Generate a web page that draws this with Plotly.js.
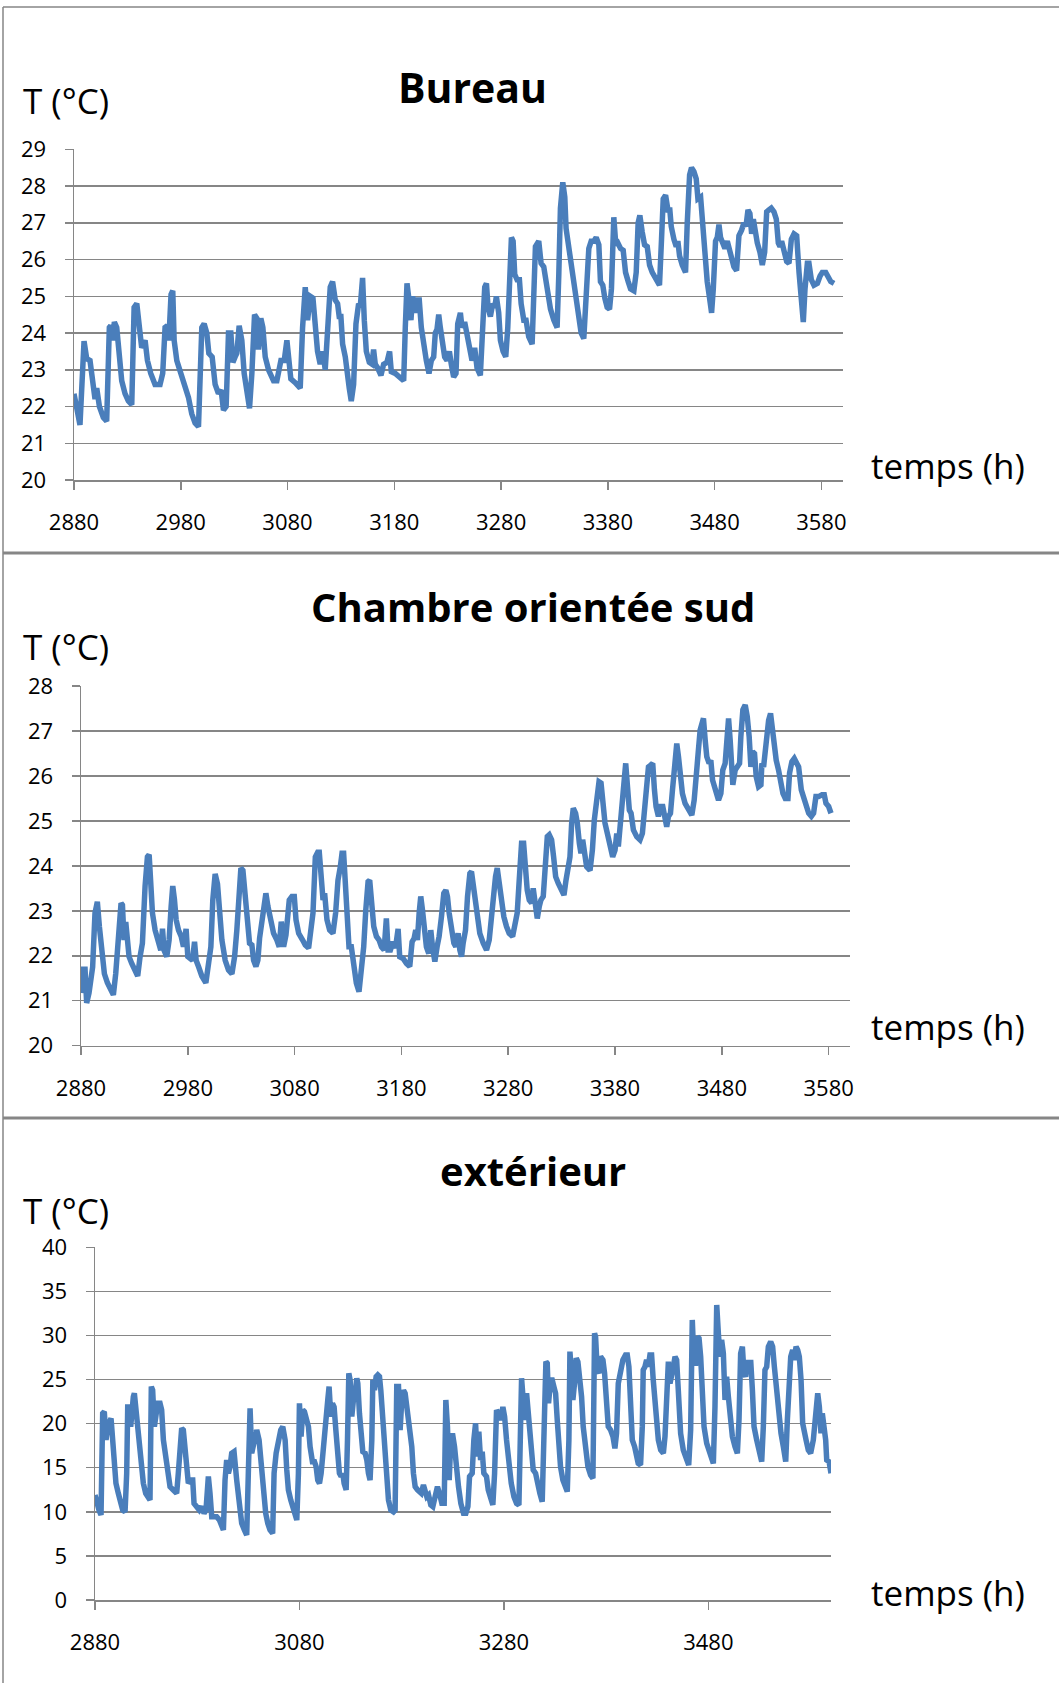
<!DOCTYPE html>
<html><head><meta charset="utf-8">
<script src="https://cdn.plot.ly/plotly-3.0.1.min.js"></script>
<style>html,body{margin:0;padding:0;background:#fff}#chart{width:1059px;height:1683px}</style>
</head><body><div id="chart"></div>
<script>
// ---------- DATA ----------
const bureauHours = [
2880,2885.6,2889.4,2891.9,2895,2896.6,2899.7,2901.3,2903.8,2907.5,
2910.6,2913.1,2914.4,2916.3,2917.8,2920,2921.9,2924.7,2927.8,2930.9,
2934.1,2936.3,2938.8,2940.9,2943.4,2946.6,2948.8,2951.9,2955.9,2960.6,
2963.1,2965.3,2967.5,2968.8,2970.9,2972.5,2973.8,2976.3,2980,2984.1,
2987.2,2990.3,2993.4,2996.6,2999.7,3001.9,3004.4,3006.3,3009.4,3012.2,
3015.3,3017.8,3020,3022.5,3024.7,3026.9,3028.8,3030.9,3032.5,3034.7,
3037.2,3039.4,3041.9,3044.4,3046.6,3049.1,3051.3,3052.8,3055,3056.9,
3059.1,3062.2,3066.9,3070,3073.8,3076.9,3079.4,3080.9,3083.1,3087.2,
3091.9,3094.1,3096.6,3098.8,3101.3,3103.8,3105.9,3108.1,3110.6,3113.1,
3115.3,3117.5,3120,3122.2,3124.7,3126.9,3128.4,3130,3131.6,3134.1,
3135.6,3137.8,3139.7,3141.9,3144.1,3146.6,3148.1,3150.3,3151.9,3153.8,
3156.6,3159.1,3160.6,3162.2,3164.4,3167.5,3170,3173.1,3175.6,3177.2,
3180.9,3185.6,3188.8,3190.3,3191.9,3193.8,3195.6,3197.2,3199.1,3201.3,
3203.4,3205.3,3207.5,3210,3212.5,3214.7,3216.9,3218.4,3220,3221.6,
3223.1,3225.3,3227.2,3229.4,3231.6,3233.4,3235.6,3237.8,3239.4,3241.9,
3243.4,3245.9,3248.1,3250.3,3252.8,3255.3,3257.5,3260.6,3262.8,3264.7,
3266.3,3267.8,3270,3272.2,3274.1,3275.6,3277.8,3279.4,3281.9,3284.4,
3286.3,3287.8,3289.7,3291.3,3292.8,3295,3297.2,3298.8,3301.3,3303.4,
3305.9,3309.1,3310.6,3312.2,3315.3,3317.5,3320,3322.5,3324.1,3326.3,
3329.4,3332.5,3334.1,3335.6,3337.8,3339.7,3340.9,3343.4,3345,3346.6,
3349.7,3352.2,3355,3357.5,3360,3362.2,3364.4,3366.9,3369.1,3371.6,
3373.1,3375.3,3377.2,3379.4,3381.6,3383.4,3385.6,3387.5,3389.4,3391.9,
3394.4,3396.6,3399.1,3401.3,3404.4,3406.6,3408.4,3410,3412.2,3414.4,
3416.9,3419.1,3421.6,3424.7,3428.4,3430.3,3431.9,3434.1,3436.3,3438.1,
3439.4,3441.9,3444.1,3445.6,3447.2,3449.7,3452.8,3454.4,3456.6,3458.4,
3460.6,3462.8,3464.4,3466.9,3468.4,3470.6,3473.1,3475.3,3477.2,3478.8,
3480.9,3482.5,3484.1,3485.6,3487.8,3489.7,3491.9,3493.4,3495.6,3498.1,
3500.6,3502.8,3505.3,3507.5,3509.4,3511.3,3513.1,3514.7,3516.3,3517.8,
3520,3522.5,3524.7,3526.9,3528.8,3530.9,3533.1,3535.6,3537.8,3539.7,
3541.3,3542.8,3545,3547.5,3549.7,3551.9,3554.4,3556.9,3559.1,3561.3,
3563.1,3564.7,3566.9,3568.4,3570.6,3573.1,3576.3,3578.8,3580.9,3584.1,
3586.6,3588.8,3591.9];
const bureauTemp = [
22.35,21.5,23.78,23.3,23.25,22.9,22.2,22.5,22.0,21.7,
21.6,24.15,24.2,23.8,24.3,24.15,23.35,22.7,22.35,22.15,
22.05,24.7,24.8,24.15,23.6,23.8,23.25,22.9,22.6,22.6,
22.9,24.15,24.2,23.8,25.05,25.15,23.8,23.25,22.9,22.5,
22.25,21.8,21.55,21.45,24.15,24.25,24.0,23.45,23.35,22.6,
22.35,22.45,21.9,22.0,24.0,24.0,23.2,23.35,23.45,24.2,
23.8,22.9,22.35,21.95,22.9,24.5,24.4,23.55,24.4,24.15,
23.35,23.0,22.7,22.7,23.25,23.25,23.8,23.25,22.75,22.65,
22.5,24.15,25.25,24.35,25.0,24.95,24.15,23.5,23.15,23.5,
23.0,24.15,25.25,25.4,24.9,24.8,24.45,24.45,23.7,23.35,
22.9,22.5,22.15,22.6,24.25,24.8,24.7,25.5,24.35,23.5,
23.2,23.15,23.55,23.15,23.05,22.85,23.15,23.2,23.5,22.95,
22.9,22.8,22.7,24.15,25.35,24.9,24.35,25.0,24.55,24.9,
24.9,24.15,23.6,23.25,22.9,23.25,23.35,24.0,24.1,24.5,
24.15,23.8,23.35,23.25,23.5,23.15,22.8,22.9,24.25,24.55,
24.15,24.3,23.9,23.6,23.25,23.6,23.05,22.85,24.15,25.25,
25.35,24.7,24.45,24.8,24.7,25.0,24.55,23.8,23.5,23.35,
24.15,25.8,26.6,26.5,25.6,25.45,25.45,24.8,24.35,24.35,
23.9,23.7,25.45,26.35,26.5,25.9,25.8,25.35,24.9,24.65,
24.35,24.15,25.6,27.4,28.1,27.7,26.85,26.35,26.15,25.6,
25.15,24.55,24.0,23.85,25.0,26.3,26.5,26.5,26.6,26.4,
25.4,25.3,24.95,24.7,24.65,25.2,27.15,26.4,26.45,26.3,
26.25,25.65,25.4,25.2,25.15,25.65,27.0,27.2,26.75,26.4,
26.35,25.85,25.65,25.5,25.3,26.55,27.65,27.75,27.35,27.35,
26.9,26.55,26.35,26.5,26.1,25.85,25.65,27.0,28.3,28.5,
28.4,28.2,27.65,27.7,27.1,26.2,25.4,24.95,24.55,25.2,
26.5,26.6,26.95,26.6,26.4,26.3,26.5,26.3,26.05,25.8,
25.7,26.65,26.8,27.0,26.9,27.35,27.25,26.7,27.1,26.7,
26.45,26.2,25.85,26.2,27.3,27.35,27.4,27.3,27.1,26.45,
26.35,26.5,26.25,25.95,25.9,26.55,26.7,26.65,25.65,25.0,
24.3,25.2,25.9,25.9,25.45,25.3,25.35,25.55,25.65,25.65,
25.55,25.4,25.35];

const chambreHours = [
2880,2882.2,2883.8,2885.3,2887.5,2889.4,2890.9,2893.1,2895.3,2897.2,
2899.4,2901.9,2904.7,2907.2,2910.3,2912.5,2914.4,2915.9,2917.5,2918.8,
2920.3,2921.9,2923.4,2925,2927.5,2930,2933.1,2935.3,2937.5,2940,
2942.2,2943.8,2945.3,2946.9,2949.4,2952.5,2954.7,2956.3,2957.8,2960.3,
2962.5,2964.4,2965.9,2967.5,2969.1,2971.3,2973.8,2975.9,2978.4,2980,
2982.2,2984.4,2986.3,2987.8,2990,2993.1,2996.9,2999.4,3001.6,3003.4,
3005.6,3007.8,3009.4,3011.9,3015,3018.1,3021.3,3023.8,3025.9,3027.5,
3029.7,3031.6,3033.8,3035.9,3037.8,3040,3041.6,3043.8,3045.6,3047.2,
3049.4,3051.6,3053.1,3055,3057.2,3060.3,3063.4,3065.6,3067.5,3069.7,
3071.9,3073.8,3075,3077.5,3079.7,3081.3,3083.8,3087.5,3090,3093.1,
3095.3,3097.2,3099.4,3101.6,3103.1,3105,3106.6,3108.1,3110.3,3112.8,
3115.9,3118.4,3120.6,3122.8,3124.4,3125.9,3127.5,3129.1,3130.9,3133.1,
3135.3,3137.8,3140.3,3142.5,3144.7,3146.6,3148.8,3150.3,3151.9,3154.1,
3156.6,3159.1,3161.3,3163.8,3165.9,3167.5,3169.7,3172.2,3174.4,3176.9,
3178.4,3181.6,3184.7,3187.8,3190,3191.9,3193.4,3195,3196.6,3198.1,
3199.7,3201.3,3203.4,3205.6,3207.5,3209.1,3211.3,3213.4,3215.3,3217.5,
3219.7,3221.6,3223.1,3224.7,3226.9,3229.1,3230.9,3233.1,3234.7,3236.3,
3237.8,3240,3241.9,3244.1,3245.6,3247.2,3248.8,3250.9,3253.4,3256.6,
3259.7,3262.2,3264.4,3266.6,3268.1,3269.7,3271.6,3273.8,3275.9,3278.4,
3280.9,3284.1,3286.3,3288.4,3290.3,3292.5,3294.4,3296.3,3297.8,3299.7,
3301.9,3303.4,3305,3307.2,3309.1,3310.6,3312.8,3314.4,3316.6,3318.4,
3320.6,3322.5,3324.4,3326.9,3329.4,3332.2,3334.1,3336.3,3337.8,3339.4,
3340.9,3343.1,3344.7,3346.6,3348.1,3349.7,3351.3,3353.4,3356.6,3358.8,
3360.6,3362.8,3365,3366.9,3368.4,3370.6,3372.8,3375.3,3377.8,3380,
3381.6,3383.1,3385.3,3387.2,3388.8,3390,3391.9,3393.4,3395,3397.2,
3400.3,3403.4,3405.6,3407.5,3409.7,3411.3,3413.4,3415.3,3416.9,3418.4,
3420.6,3422.8,3424.7,3426.3,3428.4,3430,3431.9,3433.8,3435.6,3437.8,
3439.4,3441.3,3443.1,3445.6,3448.8,3451.9,3454.1,3455.9,3458.1,3459.7,
3461.3,3462.8,3464.4,3465.9,3468.1,3469.7,3471.3,3473.8,3476.9,3479.1,
3480.9,3483.1,3484.7,3486.3,3487.8,3489.4,3490.3,3492.5,3494.7,3496.6,
3497.8,3499.7,3501.9,3503.8,3505.6,3507.2,3508.8,3510.6,3512.2,3514.4,
3516.6,3517.5,3519.1,3520.6,3522.2,3523.8,3525.6,3527.5,3529.1,3530.9,
3533.1,3535.3,3537.2,3539.4,3541.9,3543.4,3545.6,3547.8,3549.7,3551.9,
3554.4,3556.6,3558.8,3561.3,3563.8,3565.9,3568.1,3570.6,3573.8,3575.9,
3577.5,3580,3582.2];
const chambreTemp = [
21.17,21.7,21.7,20.95,21.17,21.45,21.75,22.95,23.2,22.65,
21.98,21.6,21.4,21.25,21.13,21.6,22.2,22.35,23.17,23.13,
22.35,22.75,22.4,21.98,21.83,21.7,21.55,21.98,22.28,23.55,
24.2,24.25,23.55,22.95,22.57,22.35,22.12,22.6,22.12,21.98,
22.35,23.1,23.55,23.25,22.8,22.57,22.43,22.2,22.6,21.98,
21.94,21.9,22.31,21.9,21.76,21.55,21.4,21.98,22.2,23.24,
23.82,23.6,22.95,22.35,21.9,21.68,21.6,21.98,22.57,23.39,
23.95,23.9,23.3,22.65,22.28,22.24,21.9,21.76,21.9,22.39,
22.8,23.3,23.39,23.1,22.8,22.5,22.35,22.2,22.76,22.2,
22.46,22.8,23.24,23.32,23.32,22.8,22.5,22.35,22.24,22.17,
22.5,22.95,24.2,24.3,24.3,23.68,23.24,23.39,22.8,22.57,
22.5,22.95,23.68,23.98,24.28,24.28,23.54,22.8,22.2,22.2,
21.76,21.39,21.2,21.6,22.2,23.0,23.65,23.68,23.32,22.65,
22.43,22.35,22.2,22.13,22.83,22.13,22.13,22.31,22.17,22.6,
21.98,21.94,21.83,21.76,22.31,22.39,22.57,22.35,22.95,23.32,
23.02,22.5,22.2,22.05,22.57,22.2,21.87,22.2,22.43,22.87,
23.39,23.46,23.32,22.95,22.5,22.28,22.2,22.5,22.13,21.98,
22.28,22.57,23.32,23.83,23.87,23.54,23.32,22.8,22.5,22.28,
22.13,22.35,22.95,23.68,23.76,23.95,23.54,23.24,22.87,22.65,
22.5,22.43,22.65,22.95,23.68,24.5,24.5,23.9,23.46,23.24,
23.17,23.5,23.24,22.83,23.1,23.24,23.32,24.13,24.65,24.69,
24.58,24.2,23.76,23.61,23.46,23.35,23.68,23.98,24.2,24.95,
25.28,25.17,24.95,24.5,24.28,24.58,24.2,23.98,23.9,24.35,
25.02,25.61,25.87,25.84,25.32,24.95,24.72,24.43,24.2,24.35,
24.72,24.43,25.02,25.54,25.98,26.28,25.69,25.24,25.17,24.8,
24.65,24.58,24.72,25.24,25.69,26.2,26.24,26.28,25.69,25.32,
25.1,25.32,25.32,25.02,24.87,25.1,25.17,25.69,26.35,26.72,
26.43,25.91,25.61,25.39,25.24,25.13,25.46,26.13,26.58,27.02,
27.17,27.28,26.8,26.43,26.28,26.35,25.91,25.69,25.46,25.61,
26.13,26.28,26.95,27.28,26.8,26.2,25.8,26.13,26.2,26.28,
26.87,27.47,27.58,27.32,26.87,26.2,26.54,26.5,25.98,25.76,
25.8,26.28,26.2,26.58,26.72,27.24,27.39,27.02,26.5,26.35,
26.13,25.84,25.61,25.5,25.5,26.06,26.32,26.39,26.28,26.2,
25.69,25.54,25.39,25.17,25.1,25.17,25.54,25.54,25.58,25.58,
25.39,25.32,25.17];

const exterieurHours = [
2880,2881.6,2883.9,2885.9,2887.5,2889.1,2890.8,2892.4,2894,2895.7,
2897.3,2898.9,2900.5,2902.8,2905.1,2907.1,2909.4,2911,2912,2913.6,
2914.9,2915.9,2917.5,2918.5,2920.1,2921.7,2923.4,2925,2927.3,2929.6,
2932.2,2933.8,2935.1,2936.4,2938.1,2939.7,2941.3,2943.6,2945.2,2946.9,
2949.1,2951.1,2953.4,2956.6,2959.9,2961.5,2963.2,2964.8,2966.4,2968.1,
2969.7,2971.3,2973.6,2975.6,2976.9,2979.5,2982.1,2984.4,2986.7,2988.6,
2990.9,2992.5,2994.2,2996.4,2999,3001.7,3003.9,3005.6,3007.2,3008.8,
3010.5,3012.1,3013.7,3016,3018.6,3020.9,3023.5,3026.1,3028.4,3030,
3031.7,3033.3,3034.9,3036.6,3038.2,3040.5,3042.4,3044.7,3047,3049,
3051.2,3053.8,3055.2,3057.2,3059.5,3061.7,3063.7,3066,3067.6,3069.2,
3071.5,3073.5,3075.8,3077.4,3079,3080,3081.6,3083.3,3084.9,3086.5,
3088.8,3090.4,3092.7,3094.7,3096.3,3097.9,3099.6,3101.2,3102.8,3104.5,
3106.1,3107.7,3109,3110.7,3112.3,3113.9,3115.6,3117.2,3119.1,3120.8,
3122.4,3123.7,3125.7,3127,3128.3,3129.6,3131.2,3132.8,3134.5,3136.1,
3137.1,3138.7,3140.3,3142,3144.3,3145.9,3147.5,3149.1,3150.8,3151.8,
3153.4,3155,3156.6,3158.3,3159.6,3161.2,3162.8,3164.8,3167.1,3169.4,
3172,3173.6,3175.2,3176.9,3178.5,3180.1,3181.8,3183.4,3185,3186.7,
3188.3,3189.9,3191.5,3193.2,3195.5,3197.4,3199.1,3201.3,3203,3204.6,
3206.3,3208.5,3210.5,3212.7,3215,3217,3219.3,3221.6,3223.2,3224.8,
3226.5,3228.1,3229.7,3231.7,3233.3,3235.6,3237.9,3240.5,3242.8,3244.8,
3246.4,3249,3250.6,3252.3,3253.9,3255.5,3257.2,3258.8,3260.4,3263,
3264.7,3267,3269.2,3270.9,3272.8,3274.5,3276.7,3279,3280.7,3282.6,
3284.9,3287.2,3289.8,3292.4,3294.7,3296.3,3297.3,3298.9,3300.2,3302.2,
3303.8,3305.4,3307.1,3308.7,3311,3313.3,3315.2,3317.5,3319.1,3321.1,
3322.4,3323.7,3325.7,3327.3,3328.9,3330.6,3332.2,3333.8,3335.4,3337.7,
3339.7,3342,3343.6,3344.6,3346.2,3347.5,3349.1,3350.8,3352.4,3354,
3356,3357.6,3359.9,3362.2,3364.8,3367.1,3368.7,3369.7,3371.3,3373,
3374.6,3376.9,3378.5,3380.1,3382.1,3384.4,3386.7,3388.6,3390.2,3391.9,
3394.2,3396.4,3399,3400.7,3402.3,3403.9,3405.6,3407.9,3409.5,3411.4,
3413.7,3415.4,3416.3,3418,3419.6,3421.2,3422.9,3424.5,3426.1,3428.4,
3430,3431.1,3433.4,3436,3437.6,3439.2,3440.9,3442.5,3444.1,3445.8,
3447.4,3449,3450.6,3452.9,3455.5,3458.1,3460.8,3462.7,3464.3,3466,
3467.6,3469.2,3470.9,3472.5,3474.1,3475.8,3478.4,3481,3483.3,3484.9,
3486.5,3488.2,3489.8,3491.4,3493,3494.7,3496.3,3497.9,3499.6,3501.2,
3503.5,3506.1,3508.4,3510,3511.6,3513.3,3514.9,3516.5,3518.2,3519.8,
3521.4,3523.1,3524.7,3527.3,3529.9,3532.2,3533.8,3535.4,3537.1,3538.7,
3541,3542.9,3544.6,3546.9,3549.1,3551.1,3553.4,3555.7,3557.3,3558.9,
3560.6,3562.5,3564.1,3565.8,3567.4,3569,3570.7,3572.3,3573.9,3575.6,
3577.8,3580.1,3582.7,3585,3587,3588.6,3590.2,3591.5,3593.2,3594.8,
3595.8,3598.1,3600];
const exterieurTemp = [
11.9,10.96,10.2,9.64,21.17,21.36,18.15,19.66,20.4,20.6,
18.15,14.37,13.23,12.1,10.96,10.2,10.0,14.37,21.9,21.9,
19.66,22.3,23.06,23.44,21.55,20.4,18.15,15.88,13.23,12.1,
11.72,11.34,24.2,23.8,19.66,20.8,22.3,22.3,21.55,18.15,
16.26,14.0,12.85,12.48,12.1,14.37,18.53,19.47,19.28,16.64,
15.12,13.23,13.6,13.6,10.96,10.59,10.2,10.59,9.83,10.2,
14.0,12.1,9.45,9.45,9.45,9.07,8.32,7.94,13.6,15.88,
14.37,15.12,16.64,16.82,13.6,11.34,8.7,7.94,7.37,14.37,
21.74,16.64,17.39,18.53,19.28,18.15,15.12,12.48,9.83,8.7,
7.94,7.56,14.37,16.64,18.15,19.28,19.66,18.15,14.75,12.48,
11.34,10.59,9.26,9.07,14.37,22.3,18.53,21.55,21.36,20.4,
19.66,17.39,15.69,15.69,15.12,13.6,13.23,14.37,16.64,20.0,
21.55,22.68,24.2,20.8,22.3,21.9,19.28,16.64,14.37,14.0,
14.37,13.23,12.48,18.15,25.71,24.95,20.8,22.68,23.44,25.14,
24.57,21.17,18.53,16.82,16.64,15.88,14.37,13.6,18.15,24.95,
23.8,25.33,25.52,25.33,23.8,21.17,17.39,13.6,11.34,10.2,
10.0,10.2,24.2,24.2,19.28,22.68,23.8,23.44,21.9,21.17,
19.28,17.39,14.37,12.85,12.48,12.29,12.1,13.04,12.1,11.72,
11.9,10.78,10.59,11.72,12.85,12.1,10.96,10.96,22.68,19.66,
13.6,18.15,18.9,17.39,15.12,12.85,10.96,9.83,9.83,10.59,
14.0,14.37,18.15,20.04,16.26,19.1,15.88,16.82,14.37,14.0,
12.48,11.72,10.78,14.37,21.55,21.17,20.4,21.9,20.8,18.15,
15.12,13.23,11.72,10.96,10.78,18.15,25.14,22.68,20.4,23.44,
21.17,19.66,17.39,14.75,14.37,12.85,12.1,11.15,18.9,27.03,
26.84,22.3,24.95,24.95,24.2,23.44,20.4,16.64,15.12,13.6,
12.85,12.29,18.15,28.17,25.71,22.68,24.57,27.41,27.03,25.71,
23.06,19.66,16.64,15.12,14.18,13.8,30.25,29.87,26.09,25.71,
27.6,27.22,25.71,22.68,19.66,19.28,18.53,17.2,18.9,24.57,
25.71,27.22,27.79,27.79,26.46,23.44,18.15,17.39,16.26,15.5,
15.31,19.66,26.09,26.46,27.22,26.46,27.79,27.79,24.95,20.8,
19.66,18.15,17.0,16.64,18.53,24.57,27.03,24.57,26.09,26.46,
27.6,27.22,23.82,18.9,17.0,15.88,15.31,19.28,31.76,26.84,
26.84,29.87,29.68,27.6,24.2,19.66,17.77,16.64,15.88,15.5,
21.93,33.46,30.25,27.6,29.49,27.98,22.68,25.33,23.06,20.4,
18.53,17.39,16.64,20.4,27.98,28.73,25.71,25.33,27.22,25.71,
27.22,23.82,19.66,18.15,16.64,15.69,19.66,26.09,26.46,28.73,
29.3,28.73,26.46,23.44,20.4,18.9,17.39,15.69,20.4,25.33,
27.6,28.36,27.22,28.73,28.36,27.6,24.95,20.04,18.53,18.15,
17.0,16.64,18.15,21.93,23.44,21.93,18.9,21.17,19.66,18.15,
15.88,15.69,14.37];

const panelTitles = ['Bureau', 'Chambre orientée sud', 'extérieur'];
const yTitle = 'T (°C)';
const xTitle = 'temps (h)';

// ---------- LAYOUT ----------
const W = 1059, H = 1683;
const px = v => v / W;
const py = v => 1 - v / H;
const GRAY = '#868686';
const BLUE = '#4A7EBB';
const FONT = '"Open Sans", "DejaVu Sans", sans-serif';

function xAxis(d, dtick, anchor) {
  return {
    domain: d, range: [2880, 3600], tickmode: 'linear', tick0: 2880, dtick: dtick,
    anchor: anchor, showgrid: false, zeroline: false,
    showline: true, linecolor: GRAY, linewidth: 1.5,
    ticks: 'outside', ticklen: 8, tickwidth: 1.5, tickcolor: GRAY,
    tickfont: {family: FONT, size: 22, color: '#000'},
    ticklabelstandoff: 14, fixedrange: true
  };
}
function yAxis(d, range, dtick, anchor) {
  return {
    domain: d, range: range, tickmode: 'linear', tick0: 0, dtick: dtick,
    anchor: anchor, showgrid: true, gridcolor: GRAY, gridwidth: 1.5, zeroline: false,
    showline: true, linecolor: GRAY, linewidth: 1.5,
    ticks: 'outside', ticklen: 8, tickwidth: 1.5, tickcolor: GRAY,
    tickfont: {family: FONT, size: 22, color: '#000'},
    ticklabelstandoff: 14, fixedrange: true
  };
}

const traces = [
  {x: bureauHours, y: bureauTemp, xaxis: 'x', yaxis: 'y'},
  {x: chambreHours, y: chambreTemp, xaxis: 'x2', yaxis: 'y2'},
  {x: exterieurHours, y: exterieurTemp, xaxis: 'x3', yaxis: 'y3'}
].map(t => Object.assign(t, {type: 'scatter', mode: 'lines', hoverinfo: 'skip',
  line: {color: BLUE, width: 5.5, shape: 'linear'}}));

function ann(text, x, y, size, bold, anchor) {
  return {text: bold ? '<b>' + text + '</b>' : text, xref: 'paper', yref: 'paper',
    x: px(x), y: py(y), xanchor: anchor, yanchor: 'middle', showarrow: false,
    borderpad: 0,
    font: {family: FONT, size: size, color: '#000'}};
}

const layout = {
  width: W, height: H, margin: {l: 0, r: 0, t: 0, b: 0},
  paper_bgcolor: '#fff', plot_bgcolor: '#fff', showlegend: false,
  xaxis: xAxis([px(74), px(842.7)], 100, 'y'),
  yaxis: yAxis([py(480), py(149.3)], [20, 29], 1, 'x'),
  xaxis2: xAxis([px(81), px(850)], 100, 'y2'),
  yaxis2: yAxis([py(1045.7), py(686)], [20, 28], 1, 'x2'),
  xaxis3: xAxis([px(95), px(831)], 200, 'y3'),
  yaxis3: yAxis([py(1600), py(1247.3)], [0, 40], 5, 'x3'),
  annotations: [
    ann(panelTitles[0], 472, 87, 41, true, 'center'),
    ann(yTitle, 22, 101, 35, false, 'left'),
    ann(xTitle, 870, 465, 35, false, 'left'),
    ann(panelTitles[1], 533, 606, 40, true, 'center'),
    ann(yTitle, 22, 646, 35, false, 'left'),
    ann(xTitle, 870, 1026, 35, false, 'left'),
    ann(panelTitles[2], 533, 1170, 40, true, 'center'),
    ann(yTitle, 22, 1210, 35, false, 'left'),
    ann(xTitle, 870, 1592, 35, false, 'left')
  ],
  shapes: [
    {type: 'line', xref: 'paper', yref: 'paper', x0: px(3), x1: 1, y0: py(7), y1: py(7), line: {color: GRAY, width: 1.5}},
    {type: 'line', xref: 'paper', yref: 'paper', x0: px(3), x1: px(3), y0: py(7), y1: 0, line: {color: GRAY, width: 1.5}},
    {type: 'line', xref: 'paper', yref: 'paper', x0: px(3), x1: 1, y0: py(553), y1: py(553), line: {color: GRAY, width: 3}},
    {type: 'line', xref: 'paper', yref: 'paper', x0: px(3), x1: 1, y0: py(1118), y1: py(1118), line: {color: GRAY, width: 3}}
  ]
};

Plotly.newPlot('chart', traces, layout, {staticPlot: true, displayModeBar: false});
</script>
</body></html>
